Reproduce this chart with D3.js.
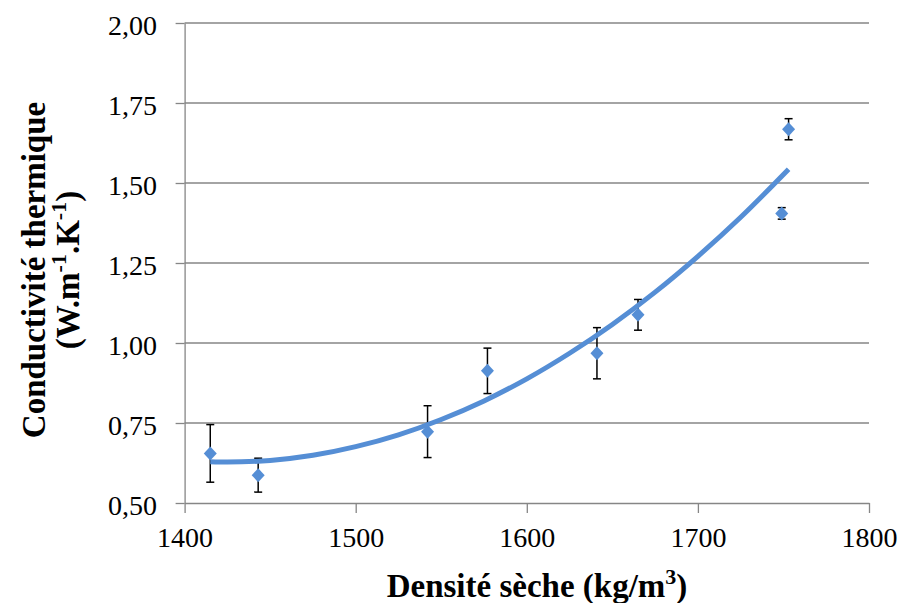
<!DOCTYPE html>
<html><head><meta charset="utf-8">
<script src="https://cdn.jsdelivr.net/npm/d3@7"></script>
<style>body{margin:0;background:#fff} svg{display:block}</style>
</head><body><svg id="c" width="903" height="603"></svg>
<script>
// ---- data ----
const densite      = [1415, 1443, 1542, 1577, 1641, 1665, 1749, 1753];
const conductivite = [0.655, 0.587, 0.723, 0.913, 0.968, 1.088, 1.405, 1.668];
const erreur       = [0.090, 0.053, 0.081, 0.071, 0.080, 0.048, 0.018, 0.033];
// polynomial trendline
const trendX = [1415, 1425, 1450, 1475, 1500, 1525, 1550, 1575, 1600, 1625, 1650, 1675, 1700, 1725, 1753];
const trendY = [0.629, 0.628, 0.633, 0.649, 0.676, 0.713, 0.761, 0.819, 0.888, 0.968, 1.058, 1.159, 1.271, 1.393, 1.543];
const xTicks = [1400, 1500, 1600, 1700, 1800];
const yTicks = [0.50, 0.75, 1.00, 1.25, 1.50, 1.75, 2.00];

const W = 903, H = 603;
const m = {left: 184.6, right: 869, top: 23, bottom: 503};
const FONT = "'Liberation Serif','Times New Roman',serif";
const BLUE = "#558ed5", GRID = "#868686";

const x = d3.scaleLinear().domain([1400, 1800]).range([m.left, m.right]);
const y = d3.scaleLinear().domain([0.5, 2.0]).range([m.bottom, m.top]);
const loc = d3.formatLocale({decimal: ",", thousands: " ", grouping: [3], currency: ["", "€"]});
const fmt = loc.format(".2f");

const svg = d3.select("#c");
svg.append("rect").attr("width", W).attr("height", H).attr("fill", "#fff");

// gridlines
svg.append("g").selectAll("line").data(yTicks.slice(1)).join("line")
  .attr("x1", m.left).attr("x2", m.right)
  .attr("y1", d => y(d)).attr("y2", d => y(d))
  .attr("stroke", GRID).attr("stroke-width", 1.3);

// y axis
const gy = svg.append("g").attr("transform", `translate(${m.left},0)`)
  .call(d3.axisLeft(y).tickValues(yTicks).tickFormat(fmt).tickSize(9).tickSizeOuter(0).tickPadding(18.6));
// x axis
const gx = svg.append("g").attr("transform", `translate(0,${m.bottom})`)
  .call(d3.axisBottom(x).tickValues(xTicks).tickFormat(d3.format("d")).tickSize(10).tickSizeOuter(0).tickPadding(14.3));
[gx, gy].forEach(g => {
  g.select(".domain").attr("stroke", GRID).attr("stroke-width", 1.3);
  g.selectAll(".tick line").attr("stroke", GRID).attr("stroke-width", 1.3);
  g.selectAll(".tick text").attr("fill", "#000").style("font-family", FONT).style("font-size", "28px");
});
gy.selectAll(".tick text").attr("dy", "0.42em");

// error bars
const pts = densite.map((d, i) => ({x: d, y: conductivite[i], e: erreur[i]}));
const eb = svg.append("g").attr("stroke", "#000").attr("stroke-width", 1.5).attr("fill", "none");
pts.forEach(p => {
  const cx = x(p.x), t = y(p.y + p.e), b = y(p.y - p.e);
  eb.append("line").attr("x1", cx).attr("x2", cx).attr("y1", t).attr("y2", b);
  eb.append("line").attr("x1", cx - 4).attr("x2", cx + 4).attr("y1", t).attr("y2", t);
  eb.append("line").attr("x1", cx - 4).attr("x2", cx + 4).attr("y1", b).attr("y2", b);
});

// diamonds
svg.append("g").selectAll("path").data(pts).join("path")
  .attr("d", p => { const cx = x(p.x), cy = y(p.y), r = 7;
    return `M${cx},${cy - r}L${cx + r - 0.5},${cy}L${cx},${cy + r}L${cx - r + 0.5},${cy}Z`; })
  .attr("fill", BLUE);

// trendline
const trend = trendX.map((d, i) => [d, trendY[i]]);
svg.append("path").datum(trend)
  .attr("d", d3.line().x(d => x(d[0])).y(d => y(d[1])).curve(d3.curveMonotoneX))
  .attr("fill", "none").attr("stroke", BLUE).attr("stroke-width", 5).attr("stroke-linecap", "butt");

// axis titles
const yt1 = svg.append("text").attr("transform", "translate(45,270) rotate(-90)")
  .attr("text-anchor", "middle").style("font-family", FONT).style("font-size", "33px")
  .style("font-weight", "bold").text("Conductivité thermique");
const yt2 = svg.append("text").attr("transform", "translate(79,270) rotate(-90)")
  .attr("text-anchor", "middle").style("font-family", FONT).style("font-size", "33px")
  .style("font-weight", "bold");
yt2.append("tspan").text("(W.m");
yt2.append("tspan").attr("dy", -13).style("font-size", "22px").text("-1");
yt2.append("tspan").attr("dy", 13).text(".K");
yt2.append("tspan").attr("dy", -13).style("font-size", "22px").text("-1");
yt2.append("tspan").attr("dy", 13).text(")");

const xt = svg.append("text").attr("x", 537).attr("y", 597)
  .attr("text-anchor", "middle").style("font-family", FONT).style("font-size", "33px")
  .style("font-weight", "bold");
xt.append("tspan").text("Densité sèche (kg/m");
xt.append("tspan").attr("dy", -13).style("font-size", "22px").text("3");
xt.append("tspan").attr("dy", 13).text(")");
</script></body></html>
